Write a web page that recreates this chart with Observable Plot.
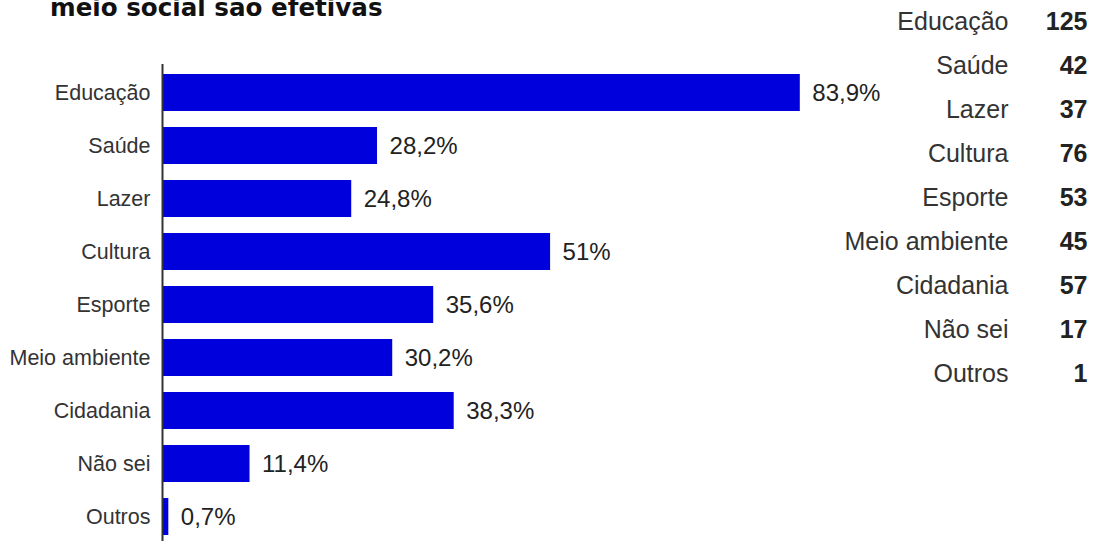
<!DOCTYPE html>
<html>
<head>
<meta charset="utf-8">
<script src="https://cdn.jsdelivr.net/npm/d3@7"></script>
<script src="https://cdn.jsdelivr.net/npm/@observablehq/plot@0.6"></script>
<style>
  html, body { margin: 0; padding: 0; background: #fff; }
  #wrap { position: relative; width: 1097px; height: 541px; overflow: hidden; background: #fff; }
  #wrap svg { position: absolute; left: 0; top: 0; }
  #title { position: absolute; left: 50px; top: -4px; font: bold 24.6px "DejaVu Sans", sans-serif; line-height: 24px; color: #111; white-space: nowrap; }
</style>
</head>
<body>
<div id="wrap">
  <div id="title">meio social são efetivas</div>
</div>
<script>
const categories = ["Educação", "Saúde", "Lazer", "Cultura", "Esporte", "Meio ambiente", "Cidadania", "Não sei", "Outros"];
const percents = [83.9, 28.2, 24.8, 51, 35.6, 30.2, 38.3, 11.4, 0.7];
const counts = [125, 42, 37, 76, 53, 45, 57, 17, 1];

const rows = categories.map((c, i) => ({cat: c, pct: percents[i], n: counts[i]}));
const fmt = v => String(v).replace(".", ",") + "%";
const font = "'Liberation Sans', Arial, sans-serif";

const bars = Plot.plot({
  width: 1097, height: 541,
  marginTop: 64, marginBottom: 0, marginLeft: 163, marginRight: 175,
  x: {domain: [0, 100], axis: null},
  y: {domain: categories, range: [56.3, 552.7], padding: 0.3},
  style: {fontFamily: font, background: "transparent", overflow: "visible"},
  marks: [
    Plot.barX(rows, {x: "pct", y: "cat", fill: "#0000dc"}),
    Plot.ruleX([0], {stroke: "#333", strokeWidth: 2, dx: -1}),
    Plot.text(rows, {x: "pct", y: "cat", text: d => fmt(d.pct), textAnchor: "start", dx: 12, fontSize: 24, fill: "#222"}),
    Plot.axisY({tickSize: 0, tickPadding: 13, fontSize: 21.5, fill: "#333", label: null})
  ]
});

const table = Plot.plot({
  width: 1097, height: 541,
  marginTop: 0, marginBottom: 0, marginLeft: 0, marginRight: 10,
  y: {type: "point", domain: categories, range: [20, 374], padding: 0, axis: null},
  style: {fontFamily: font, background: "transparent", overflow: "visible"},
  marks: [
    Plot.text(rows, {y: "cat", text: "cat", frameAnchor: "right", textAnchor: "end", dx: -79, fontSize: 25, fill: "#333"}),
    Plot.text(rows, {y: "cat", text: d => String(d.n), frameAnchor: "right", textAnchor: "end", fontSize: 25, fontWeight: "bold", fill: "#222"})
  ]
});

const wrap = document.getElementById("wrap");
wrap.appendChild(bars);
wrap.appendChild(table);
</script>
</body>
</html>
